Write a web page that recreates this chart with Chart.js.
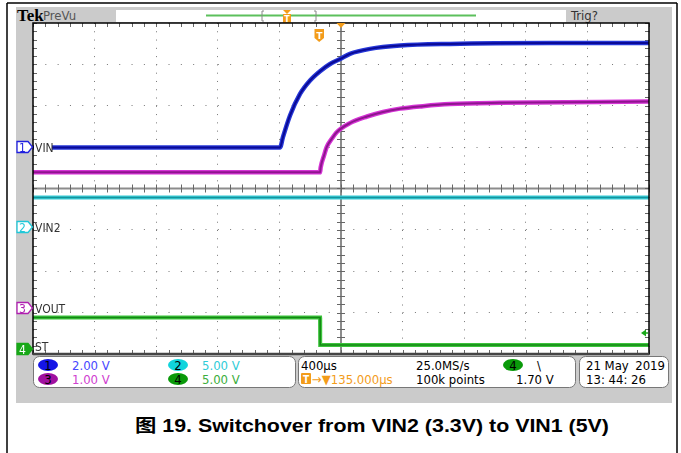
<!DOCTYPE html>
<html>
<head>
<meta charset="utf-8">
<script src="https://cdn.jsdelivr.net/npm/chart.js@4.4.1/dist/chart.umd.min.js"></script>
<style>
  body { margin: 0; background: #fff; }
  #wrap { position: relative; width: 681px; height: 453px; overflow: hidden; }
  #wrap svg, #wrap canvas { position: absolute; left: 0; top: 0; }
  .cond { font-family: "DejaVu Sans Condensed", "Liberation Sans Narrow", "DejaVu Sans", sans-serif; font-stretch: condensed; }
</style>
</head>
<body>
<div id="wrap">
<svg id="bg" width="681" height="453">
  <line x1="7" y1="3" x2="677" y2="3" stroke="#000" stroke-width="1.5"/>
  <line x1="7" y1="3" x2="7" y2="453" stroke="#000" stroke-width="1.5"/>
  <line x1="677" y1="3" x2="677" y2="453" stroke="#000" stroke-width="1.5"/>
  <rect x="16" y="7" width="656" height="396" fill="#cbcbcb"/>
  <!-- top bar -->
  <text x="17" y="21" font-family="Liberation Serif, DejaVu Serif, serif" font-weight="bold" font-size="17" fill="#000">Tek</text>
  <text x="43" y="20" class="cond" font-size="13" fill="#555">PreVu</text>
  <rect x="116" y="10" width="450" height="12" fill="#fff"/>
  <line x1="206" y1="15.5" x2="476" y2="15.5" stroke="#5cc05c" stroke-width="2"/>
  <path d="M264,11 H262 V21 H264" fill="none" stroke="#888" stroke-width="1"/>
  <path d="M314,11 H316 V21 H314" fill="none" stroke="#888" stroke-width="1"/>
  <path d="M283,10 H291 L287,14 Z" fill="#f39c1a"/>
  <rect x="283" y="14" width="8" height="9" fill="#f39c1a"/>
  <text x="287" y="21.5" text-anchor="middle" font-family="DejaVu Sans" font-size="8" font-weight="bold" fill="#fff">T</text>
  <text x="571" y="20" class="cond" font-size="13" fill="#333">Trig?</text>
  <!-- info boxes -->
  <rect x="33.5" y="356.5" width="262" height="31" rx="6" fill="#fff" stroke="#777"/>
  <rect x="298.5" y="356.5" width="277" height="31" rx="6" fill="#fff" stroke="#777"/>
  <rect x="579.5" y="356.5" width="89" height="31" rx="6" fill="#fff" stroke="#777"/>
  <g class="cond" font-size="13">
    <ellipse cx="48" cy="365" rx="10" ry="6" fill="#1414e6"/>
    <text x="48" y="369.5" text-anchor="middle" fill="#000">1</text>
    <text x="72" y="369.5" fill="#4848ff">2.00 V</text>
    <ellipse cx="48" cy="379" rx="10" ry="6" fill="#a010a0"/>
    <text x="48" y="383.5" text-anchor="middle" fill="#000">3</text>
    <text x="72" y="383.5" fill="#d040d0">1.00 V</text>
    <ellipse cx="178" cy="365" rx="10" ry="6" fill="#10d4dc"/>
    <text x="178" y="369.5" text-anchor="middle" fill="#000">2</text>
    <text x="202" y="369.5" fill="#30ccd8">5.00 V</text>
    <ellipse cx="178" cy="379" rx="10" ry="6" fill="#0a9a0a"/>
    <text x="178" y="383.5" text-anchor="middle" fill="#000">4</text>
    <text x="202" y="383.5" fill="#3cae3c">5.00 V</text>

    <text x="301" y="369.5" fill="#000">400µs</text>
    <rect x="301" y="373" width="10" height="11" rx="1" fill="#f39c1a"/>
    <text x="306" y="382.5" text-anchor="middle" font-size="10" font-weight="bold" fill="#fff">T</text>
    <text x="312" y="383.5" fill="#f39c1a">→▼135.000µs</text>
    <text x="416" y="369.5" fill="#000">25.0MS/s</text>
    <text x="416" y="383.5" fill="#000">100k points</text>
    <ellipse cx="513" cy="365" rx="10" ry="6" fill="#0a9a0a"/>
    <text x="513" y="369.5" text-anchor="middle" fill="#000">4</text>
    <text x="537" y="369.5" fill="#000">\</text>
    <text x="516" y="383.5" fill="#000">1.70 V</text>

    <text x="586" y="369.5" fill="#000">21 May</text>
    <text x="665" y="369.5" text-anchor="end" fill="#000">2019</text>
    <text x="586" y="383.5" fill="#000">13: 44: 26</text>
  </g>
  <text x="135" y="432" textLength="474" lengthAdjust="spacingAndGlyphs" font-family="Liberation Sans, Arial, 'Noto Sans CJK SC', sans-serif" font-weight="bold" font-size="18" fill="#000">图 19. Switchover from VIN2 (3.3V) to VIN1 (5V)</text>
</svg>
<canvas id="scope" width="681" height="453"></canvas>
<svg id="fg" width="681" height="453">
  <g class="cond" font-size="12" fill="#333">
    <rect x="34" y="140" width="18" height="14" fill="#fff"/>
    <text x="35" y="151.5">VIN</text>
    <text x="35" y="232">VIN2</text>
    <text x="35" y="313">VOUT</text>
    <text x="35" y="351">ST</text>
  </g>
  <g class="cond" font-size="12">
    <path d="M17,141.5 H28 L32.5,147 L28,152.5 H17 Z" fill="#fff" stroke="#2020e0" stroke-width="1.3"/>
    <text x="22.5" y="151.5" text-anchor="middle" fill="#2020e0">1</text>
    <path d="M17,221.5 H28 L32.5,227 L28,232.5 H17 Z" fill="#fff" stroke="#20c8d8" stroke-width="1.3"/>
    <text x="22.5" y="231.5" text-anchor="middle" fill="#20c8d8">2</text>
    <path d="M17,302.5 H28 L32.5,308 L28,313.5 H17 Z" fill="#fff" stroke="#b020b0" stroke-width="1.3"/>
    <text x="22.5" y="312.5" text-anchor="middle" fill="#b020b0">3</text>
    <path d="M17,343.5 H28 L32.5,349 L28,354.5 H17 Z" fill="#18a818" stroke="#18a818" stroke-width="1.3"/>
    <text x="22.5" y="353.5" text-anchor="middle" fill="#fff">4</text>
  </g>
  <!-- trigger markers -->
  <path d="M314.5,29 H324 V38 L319.2,42 L314.5,38 Z" fill="#f39c1a"/>
  <text x="319.2" y="38.5" text-anchor="middle" font-family="DejaVu Sans" font-weight="bold" font-size="9" fill="#fff">T</text>
  <path d="M336.5,23 H345.5 L341,28 Z" fill="#f39c1a"/>
  <path d="M641,333 L646,329.5 V336.5 Z" fill="#1aa81a"/>
  <line x1="645" y1="333" x2="648" y2="333" stroke="#1aa81a" stroke-width="1.5"/>
</svg>
</div>
<script>
// time base: 400 us/div, 10 divisions, centre of screen = 0 us
const timeMin = -2000;
const timeMax = 2000;
const timePerDiv = 400;

// channel settings (volts/div, ground marker position in divisions from centre)
const chNames = ['VIN', 'VIN2', 'VOUT', 'ST'];
const chVoltsPerDiv = [2, 5, 1, 5];
const chOffsetDiv = [0.99, -0.94, -2.90, -3.90];

// CH1 VIN (blue)
const ch1Time = [-2000, -396, -377, -331, -266, -201, -136, -71, -6, 58, 188, 383, 708, 1357, 2000];
const ch1Volts = [0.0, 0.0, 0.50, 1.55, 2.59, 3.24, 3.69, 4.04, 4.28, 4.53, 4.77, 4.93, 5.01, 5.05, 5.05];

// CH2 VIN2 (cyan)
const ch2Time = [-2000, 2000];
const ch2Volts = [3.6, 3.6];

// CH3 VOUT (magenta)
const ch3Time = [-2000, -136, -132, -110, -93, -60, -28, 58, 169, 273, 383, 532, 708, 1032, 2000];
const ch3Volts = [3.29, 3.29, 3.41, 3.70, 3.90, 4.10, 4.26, 4.48, 4.64, 4.75, 4.83, 4.89, 4.94, 4.97, 5.0];

// CH4 ST (green)
const ch4Time = [-2000, -136, -135, 2000];
const ch4Volts = [3.9, 3.9, 0.6, 0.6];

function toPoints(times, volts, ch) {
  return times.map((t, i) => ({ x: t, y: chOffsetDiv[ch] + volts[i] / chVoltsPerDiv[ch] }));
}

function trace(label, times, volts, ch, color, width, order, smooth) {
  return {
    label: label,
    data: toPoints(times, volts, ch),
    borderColor: color,
    borderWidth: width,
    pointRadius: 0,
    fill: false,
    order: order,
    cubicInterpolationMode: smooth ? 'monotone' : 'default',
    tension: 0
  };
}

// graticule: white screen, centre cross with ticks, edge ticks, border
const scopeGraticule = {
  id: 'scopeGraticule',
  beforeDraw(chart) {
    const {ctx, chartArea: {left, top, width, height}} = chart;
    ctx.save();
    ctx.fillStyle = '#fff';
    ctx.fillRect(left, top, width, height);
    ctx.restore();
  },
  beforeDatasetsDraw(chart) {
    const {ctx, chartArea: {left, right, top, bottom}, scales: {x, y}} = chart;
    const x0 = x.getPixelForValue(0);
    const y0 = y.getPixelForValue(0);
    ctx.save();
    ctx.strokeStyle = '#8c8c8c';
    ctx.lineWidth = 2;
    ctx.beginPath();
    ctx.moveTo(x0, top); ctx.lineTo(x0, bottom);
    ctx.moveTo(left, y0); ctx.lineTo(right, y0);
    ctx.stroke();
    ctx.lineWidth = 1;
    ctx.strokeStyle = '#666';
    ctx.beginPath();
    for (let t = timeMin; t <= timeMax; t += timePerDiv / 5) {
      const px = Math.round(x.getPixelForValue(t)) + 0.5;
      ctx.moveTo(px, y0 - 4); ctx.lineTo(px, y0 + 4);
      ctx.moveTo(px, top); ctx.lineTo(px, top + 4);
      ctx.moveTo(px, bottom); ctx.lineTo(px, bottom - 4);
    }
    for (let d = -4; d <= 4.001; d += 0.2) {
      const py = Math.round(y.getPixelForValue(d)) + 0.5;
      ctx.moveTo(x0 - 4, py); ctx.lineTo(x0 + 4, py);
      ctx.moveTo(left, py); ctx.lineTo(left + 4, py);
      ctx.moveTo(right, py); ctx.lineTo(right - 4, py);
    }
    ctx.stroke();
    ctx.restore();
  },
  afterDraw(chart) {
    const {ctx, chartArea: {left, right, top, bottom}} = chart;
    ctx.save();
    ctx.strokeStyle = '#000';
    ctx.lineWidth = 1.5;
    ctx.strokeRect(left, top, right - left, bottom - top);
    ctx.strokeStyle = '#444';
    ctx.lineWidth = 2.5;
    ctx.beginPath();
    ctx.moveTo(left, bottom); ctx.lineTo(right, bottom);
    ctx.stroke();
    ctx.restore();
  }
};

const config = {
  type: 'line',
  data: {
    datasets: [
      trace('VIN core', ch1Time, ch1Volts, 0, '#0a0a96', 2, 0, true),
      trace('VIN', ch1Time, ch1Volts, 0, '#2637d8', 4.5, 1, true),
      trace('VOUT core', ch3Time, ch3Volts, 2, '#8e168e', 2, 2, true),
      trace('VOUT', ch3Time, ch3Volts, 2, '#d633d6', 4.5, 3, true),
      trace('VIN2 core', ch2Time, ch2Volts, 1, '#14939e', 1.5, 4, false),
      trace('VIN2', ch2Time, ch2Volts, 1, '#38ccd6', 4, 5, false),
      trace('ST core', ch4Time, ch4Volts, 3, '#138813', 1.5, 6, false),
      trace('ST', ch4Time, ch4Volts, 3, '#3cc43c', 4, 7, false)
    ]
  },
  options: {
    responsive: false,
    animation: false,
    layout: {
      padding: { left: 33, top: 23, right: 32, bottom: 99 }
    },
    plugins: {
      legend: { display: false },
      tooltip: { enabled: false }
    },
    scales: {
      x: {
        type: 'linear',
        min: timeMin,
        max: timeMax,
        ticks: { display: false, stepSize: timePerDiv },
        grid: { color: '#777', lineWidth: 1, drawTicks: false },
        border: { display: false, dash: [1, 7.28] }
      },
      y: {
        type: 'linear',
        min: -4,
        max: 4,
        ticks: { display: false, stepSize: 1 },
        grid: { color: '#777', lineWidth: 1, drawTicks: false },
        border: { display: false, dash: [1, 11.32] }
      }
    }
  },
  plugins: [scopeGraticule]
};

const scopeChart = new Chart(document.getElementById('scope'), config);
</script>
</body>
</html>
